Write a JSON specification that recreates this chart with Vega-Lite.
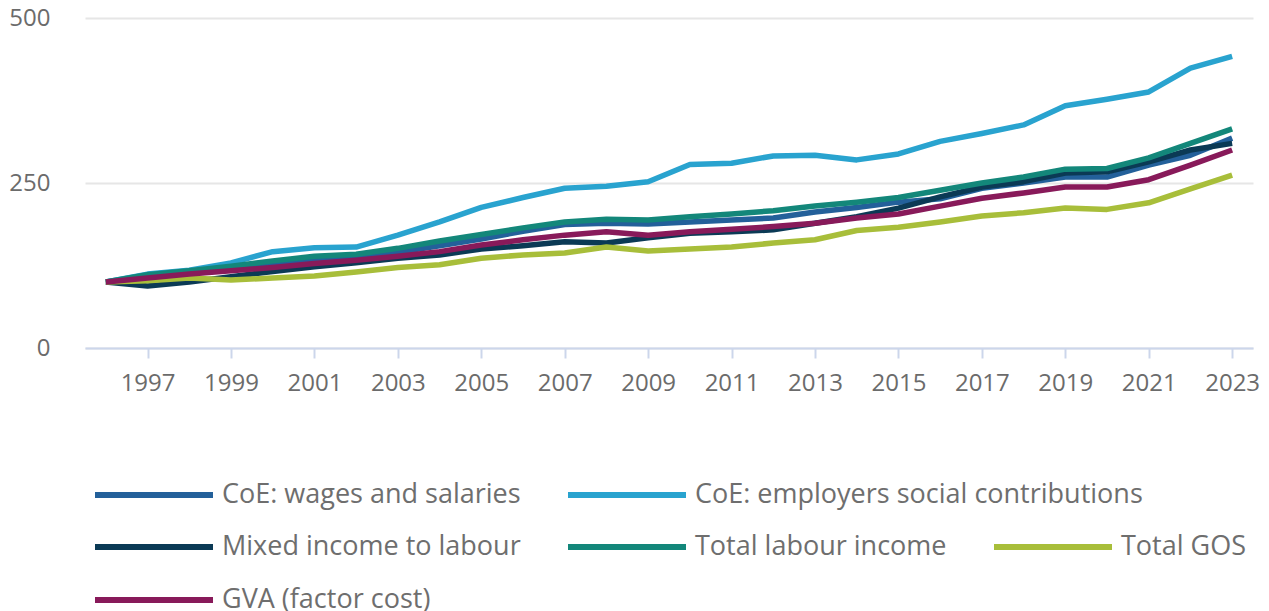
{
  "$schema": "https://vega.github.io/schema/vega-lite/v6.json",
  "width": 1168,
  "height": 330,
  "autosize": {"type": "none"},
  "padding": {"left": 85, "top": 18, "right": 16, "bottom": 263},
  "background": "white",
  "config": {
    "view": {"stroke": null},
    "font": "Open Sans",
    "axis": {"labelFont": "Open Sans", "labelFontSize": 24, "labelColor": "#6b6b6b", "title": null},
    "legend": {"labelFont": "Open Sans", "labelFontSize": 27, "labelColor": "#6e6e6e", "labelLimit": 0}
  },
  "data": {"values": [
    {"series":"CoE: wages and salaries","year":1996,"value":100},{"series":"CoE: wages and salaries","year":1997,"value":108},{"series":"CoE: wages and salaries","year":1998,"value":113},{"series":"CoE: wages and salaries","year":1999,"value":119},{"series":"CoE: wages and salaries","year":2000,"value":126},{"series":"CoE: wages and salaries","year":2001,"value":133},{"series":"CoE: wages and salaries","year":2002,"value":138},{"series":"CoE: wages and salaries","year":2003,"value":145},{"series":"CoE: wages and salaries","year":2004,"value":155},{"series":"CoE: wages and salaries","year":2005,"value":165},{"series":"CoE: wages and salaries","year":2006,"value":177},{"series":"CoE: wages and salaries","year":2007,"value":187},{"series":"CoE: wages and salaries","year":2008,"value":189},{"series":"CoE: wages and salaries","year":2009,"value":188},{"series":"CoE: wages and salaries","year":2010,"value":191},{"series":"CoE: wages and salaries","year":2011,"value":194},{"series":"CoE: wages and salaries","year":2012,"value":197},{"series":"CoE: wages and salaries","year":2013,"value":206},{"series":"CoE: wages and salaries","year":2014,"value":213},{"series":"CoE: wages and salaries","year":2015,"value":221},{"series":"CoE: wages and salaries","year":2016,"value":226},{"series":"CoE: wages and salaries","year":2017,"value":242},{"series":"CoE: wages and salaries","year":2018,"value":250},{"series":"CoE: wages and salaries","year":2019,"value":259},{"series":"CoE: wages and salaries","year":2020,"value":259},{"series":"CoE: wages and salaries","year":2021,"value":277},{"series":"CoE: wages and salaries","year":2022,"value":292},{"series":"CoE: wages and salaries","year":2023,"value":318},
    {"series":"CoE: employers social contributions","year":1996,"value":100},{"series":"CoE: employers social contributions","year":1997,"value":112},{"series":"CoE: employers social contributions","year":1998,"value":118},{"series":"CoE: employers social contributions","year":1999,"value":129},{"series":"CoE: employers social contributions","year":2000,"value":146},{"series":"CoE: employers social contributions","year":2001,"value":152},{"series":"CoE: employers social contributions","year":2002,"value":153},{"series":"CoE: employers social contributions","year":2003,"value":171},{"series":"CoE: employers social contributions","year":2004,"value":191},{"series":"CoE: employers social contributions","year":2005,"value":213},{"series":"CoE: employers social contributions","year":2006,"value":228},{"series":"CoE: employers social contributions","year":2007,"value":242},{"series":"CoE: employers social contributions","year":2008,"value":245},{"series":"CoE: employers social contributions","year":2009,"value":252},{"series":"CoE: employers social contributions","year":2010,"value":278},{"series":"CoE: employers social contributions","year":2011,"value":280},{"series":"CoE: employers social contributions","year":2012,"value":291},{"series":"CoE: employers social contributions","year":2013,"value":292},{"series":"CoE: employers social contributions","year":2014,"value":285},{"series":"CoE: employers social contributions","year":2015,"value":294},{"series":"CoE: employers social contributions","year":2016,"value":313},{"series":"CoE: employers social contributions","year":2017,"value":325},{"series":"CoE: employers social contributions","year":2018,"value":338},{"series":"CoE: employers social contributions","year":2019,"value":367},{"series":"CoE: employers social contributions","year":2020,"value":377},{"series":"CoE: employers social contributions","year":2021,"value":388},{"series":"CoE: employers social contributions","year":2022,"value":424},{"series":"CoE: employers social contributions","year":2023,"value":442},
    {"series":"Mixed income to labour","year":1996,"value":100},{"series":"Mixed income to labour","year":1997,"value":94},{"series":"Mixed income to labour","year":1998,"value":100},{"series":"Mixed income to labour","year":1999,"value":108},{"series":"Mixed income to labour","year":2000,"value":116},{"series":"Mixed income to labour","year":2001,"value":123},{"series":"Mixed income to labour","year":2002,"value":129},{"series":"Mixed income to labour","year":2003,"value":136},{"series":"Mixed income to labour","year":2004,"value":141},{"series":"Mixed income to labour","year":2005,"value":150},{"series":"Mixed income to labour","year":2006,"value":155},{"series":"Mixed income to labour","year":2007,"value":161},{"series":"Mixed income to labour","year":2008,"value":159},{"series":"Mixed income to labour","year":2009,"value":167},{"series":"Mixed income to labour","year":2010,"value":174},{"series":"Mixed income to labour","year":2011,"value":176},{"series":"Mixed income to labour","year":2012,"value":179},{"series":"Mixed income to labour","year":2013,"value":189},{"series":"Mixed income to labour","year":2014,"value":199},{"series":"Mixed income to labour","year":2015,"value":212},{"series":"Mixed income to labour","year":2016,"value":229},{"series":"Mixed income to labour","year":2017,"value":244},{"series":"Mixed income to labour","year":2018,"value":252},{"series":"Mixed income to labour","year":2019,"value":265},{"series":"Mixed income to labour","year":2020,"value":267},{"series":"Mixed income to labour","year":2021,"value":282},{"series":"Mixed income to labour","year":2022,"value":300},{"series":"Mixed income to labour","year":2023,"value":310},
    {"series":"Total labour income","year":1996,"value":100},{"series":"Total labour income","year":1997,"value":111},{"series":"Total labour income","year":1998,"value":117},{"series":"Total labour income","year":1999,"value":124},{"series":"Total labour income","year":2000,"value":132},{"series":"Total labour income","year":2001,"value":139},{"series":"Total labour income","year":2002,"value":142},{"series":"Total labour income","year":2003,"value":151},{"series":"Total labour income","year":2004,"value":162},{"series":"Total labour income","year":2005,"value":172},{"series":"Total labour income","year":2006,"value":182},{"series":"Total labour income","year":2007,"value":191},{"series":"Total labour income","year":2008,"value":195},{"series":"Total labour income","year":2009,"value":194},{"series":"Total labour income","year":2010,"value":199},{"series":"Total labour income","year":2011,"value":203},{"series":"Total labour income","year":2012,"value":208},{"series":"Total labour income","year":2013,"value":215},{"series":"Total labour income","year":2014,"value":221},{"series":"Total labour income","year":2015,"value":228},{"series":"Total labour income","year":2016,"value":239},{"series":"Total labour income","year":2017,"value":250},{"series":"Total labour income","year":2018,"value":259},{"series":"Total labour income","year":2019,"value":271},{"series":"Total labour income","year":2020,"value":272},{"series":"Total labour income","year":2021,"value":288},{"series":"Total labour income","year":2022,"value":310},{"series":"Total labour income","year":2023,"value":332},
    {"series":"Total GOS","year":1996,"value":100},{"series":"Total GOS","year":1997,"value":102},{"series":"Total GOS","year":1998,"value":106},{"series":"Total GOS","year":1999,"value":103},{"series":"Total GOS","year":2000,"value":106},{"series":"Total GOS","year":2001,"value":109},{"series":"Total GOS","year":2002,"value":115},{"series":"Total GOS","year":2003,"value":122},{"series":"Total GOS","year":2004,"value":126},{"series":"Total GOS","year":2005,"value":136},{"series":"Total GOS","year":2006,"value":141},{"series":"Total GOS","year":2007,"value":144},{"series":"Total GOS","year":2008,"value":153},{"series":"Total GOS","year":2009,"value":147},{"series":"Total GOS","year":2010,"value":150},{"series":"Total GOS","year":2011,"value":153},{"series":"Total GOS","year":2012,"value":159},{"series":"Total GOS","year":2013,"value":164},{"series":"Total GOS","year":2014,"value":178},{"series":"Total GOS","year":2015,"value":183},{"series":"Total GOS","year":2016,"value":191},{"series":"Total GOS","year":2017,"value":200},{"series":"Total GOS","year":2018,"value":205},{"series":"Total GOS","year":2019,"value":212},{"series":"Total GOS","year":2020,"value":210},{"series":"Total GOS","year":2021,"value":220},{"series":"Total GOS","year":2022,"value":241},{"series":"Total GOS","year":2023,"value":262},
    {"series":"GVA (factor cost)","year":1996,"value":100},{"series":"GVA (factor cost)","year":1997,"value":106},{"series":"GVA (factor cost)","year":1998,"value":112},{"series":"GVA (factor cost)","year":1999,"value":117},{"series":"GVA (factor cost)","year":2000,"value":122},{"series":"GVA (factor cost)","year":2001,"value":128},{"series":"GVA (factor cost)","year":2002,"value":133},{"series":"GVA (factor cost)","year":2003,"value":139},{"series":"GVA (factor cost)","year":2004,"value":146},{"series":"GVA (factor cost)","year":2005,"value":156},{"series":"GVA (factor cost)","year":2006,"value":164},{"series":"GVA (factor cost)","year":2007,"value":171},{"series":"GVA (factor cost)","year":2008,"value":176},{"series":"GVA (factor cost)","year":2009,"value":171},{"series":"GVA (factor cost)","year":2010,"value":176},{"series":"GVA (factor cost)","year":2011,"value":180},{"series":"GVA (factor cost)","year":2012,"value":184},{"series":"GVA (factor cost)","year":2013,"value":189},{"series":"GVA (factor cost)","year":2014,"value":197},{"series":"GVA (factor cost)","year":2015,"value":203},{"series":"GVA (factor cost)","year":2016,"value":215},{"series":"GVA (factor cost)","year":2017,"value":227},{"series":"GVA (factor cost)","year":2018,"value":235},{"series":"GVA (factor cost)","year":2019,"value":244},{"series":"GVA (factor cost)","year":2020,"value":244},{"series":"GVA (factor cost)","year":2021,"value":255},{"series":"GVA (factor cost)","year":2022,"value":277},{"series":"GVA (factor cost)","year":2023,"value":300}
  ]},
  "encoding": {
    "x": {"field": "year", "type": "quantitative",
      "scale": {"domain": [1995.5, 2023.5], "nice": false, "zero": false},
      "axis": {"values": [1997,1999,2001,2003,2005,2007,2009,2011,2013,2015,2017,2019,2021,2023], "format": "d", "grid": false,
        "domainColor": "#ccd6eb", "domainWidth": 2, "tickColor": "#ccd6eb", "tickWidth": 2, "tickSize": 10, "labelPadding": 13, "labelFlush": false, "labelOverlap": false}},
    "y": {"field": "value", "type": "quantitative",
      "scale": {"domain": [0, 500], "nice": false},
      "axis": {"values": [0, 250, 500], "domain": false, "ticks": false, "tickSize": 0, "labelPadding": 35,
        "gridColor": "#e6e6e6", "gridWidth": 2}}
  },
  "layer": [
    {
      "transform": [{"filter": {"field": "series", "oneOf": ["CoE: wages and salaries", "CoE: employers social contributions"]}}],
      "mark": {"type": "line", "strokeWidth": 5.5, "strokeJoin": "round"},
      "encoding": {
        "color": {"field": "series", "type": "nominal", "sort": null,
          "scale": {"domain": ["CoE: wages and salaries", "CoE: employers social contributions"], "range": ["#23609a", "#29a3cf"]},
          "legend": {"orient": "none", "legendX": 7, "legendY": 415, "direction": "horizontal", "title": null,
            "symbolType": "stroke", "symbolSize": 13924, "symbolStrokeWidth": 6, "labelOffset": 6, "columnPadding": 35}}
      }
    },
    {
      "transform": [{"filter": {"field": "series", "oneOf": ["Mixed income to labour", "Total labour income", "Total GOS"]}}],
      "mark": {"type": "line", "strokeWidth": 5.5, "strokeJoin": "round"},
      "encoding": {
        "color": {"field": "series", "type": "nominal", "sort": null,
          "scale": {"domain": ["Mixed income to labour", "Total labour income", "Total GOS"], "range": ["#0b3a55", "#13877a", "#a8be3a"]},
          "legend": {"orient": "none", "legendX": 7, "legendY": 467, "direction": "horizontal", "title": null,
            "symbolType": "stroke", "symbolSize": 13924, "symbolStrokeWidth": 6, "labelOffset": 6, "columnPadding": 35}}
      }
    },
    {
      "transform": [{"filter": {"field": "series", "oneOf": ["GVA (factor cost)"]}}],
      "mark": {"type": "line", "strokeWidth": 5.5, "strokeJoin": "round"},
      "encoding": {
        "color": {"field": "series", "type": "nominal", "sort": null,
          "scale": {"domain": ["GVA (factor cost)"], "range": ["#881a5a"]},
          "legend": {"orient": "none", "legendX": 7, "legendY": 520, "direction": "horizontal", "title": null,
            "symbolType": "stroke", "symbolSize": 13924, "symbolStrokeWidth": 6, "labelOffset": 6, "columnPadding": 35}}
      }
    }
  ],
  "resolve": {"scale": {"color": "independent"}, "legend": {"color": "independent"}}
}
